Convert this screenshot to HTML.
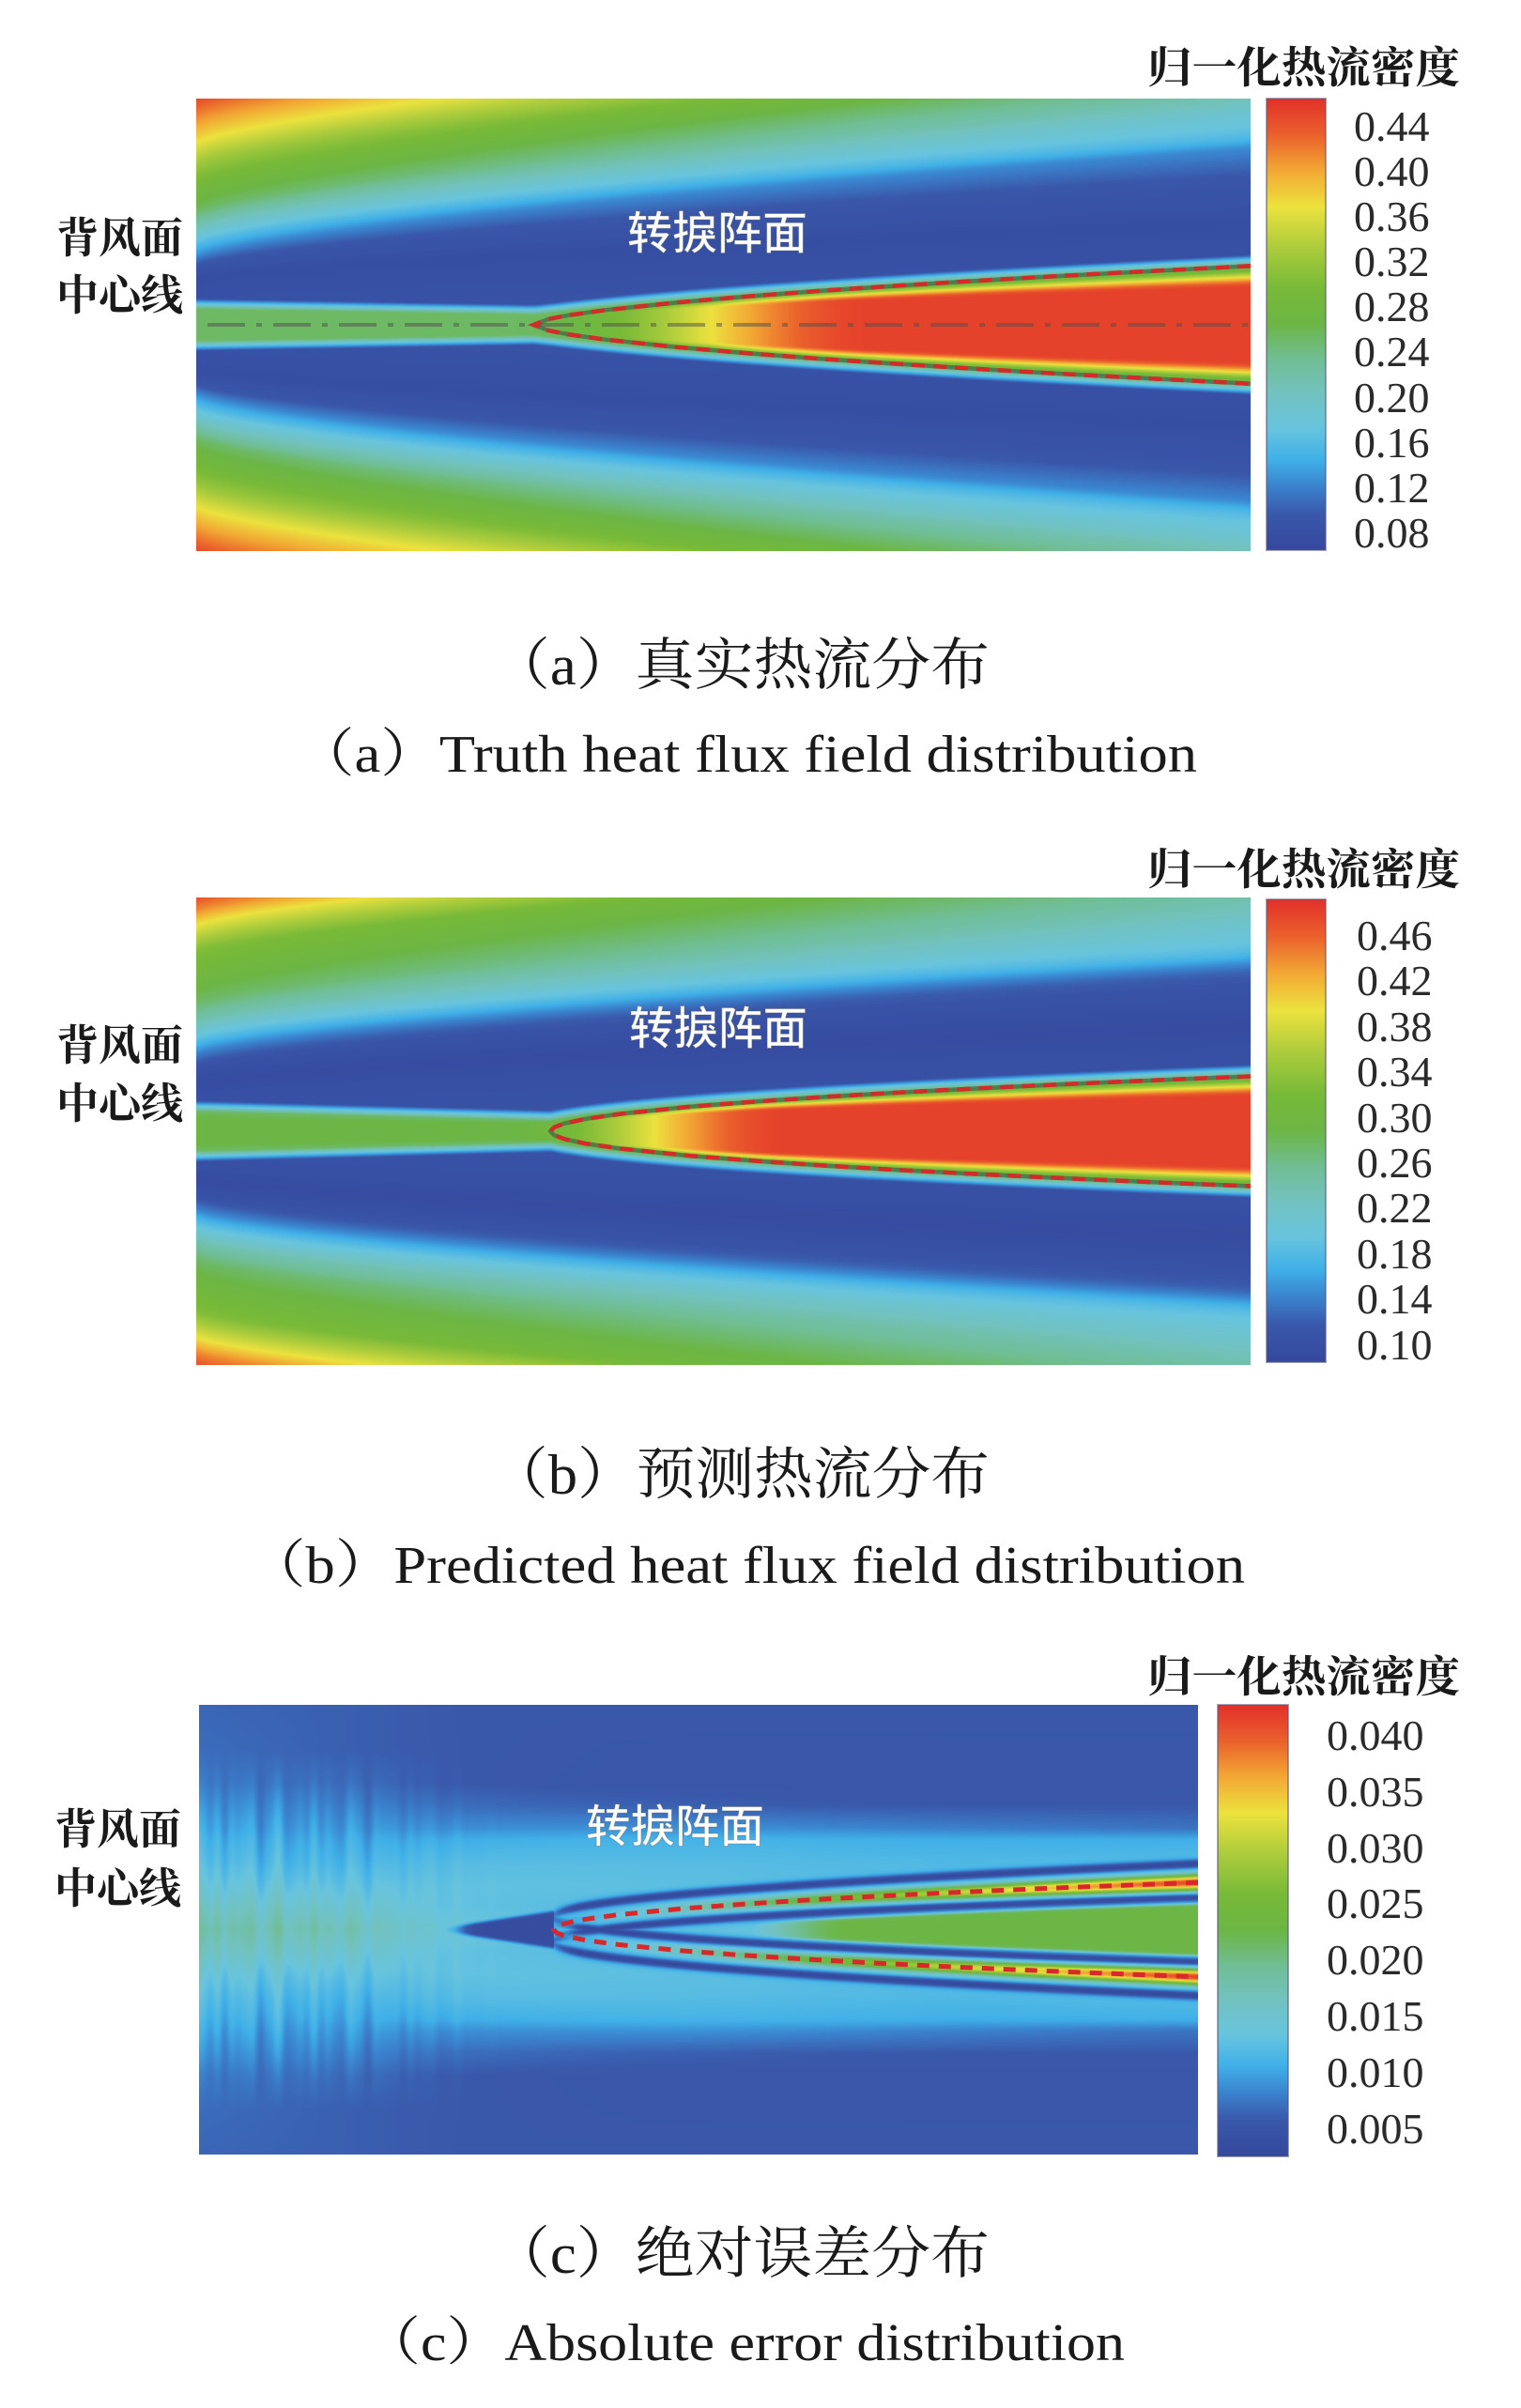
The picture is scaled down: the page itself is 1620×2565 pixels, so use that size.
<!DOCTYPE html>
<html><head><meta charset="utf-8">
<style>
html,body{margin:0;padding:0;background:#fff;}
body{width:1620px;height:2565px;position:relative;overflow:hidden;}
canvas,.fb{position:absolute;display:block;}
svg{position:absolute;left:0;top:0;}
</style></head><body>
<div class="fb" style="left:209px;top:105px;width:1123px;height:482px;background:linear-gradient(to bottom,#9cc84a 0%,#6cb646 15%,#70c0c0 28%,#3a58aa 38%,#3a58aa 42%,#e8602c 50%,#3a58aa 58%,#3a58aa 62%,#70c0c0 72%,#6cb646 85%,#9cc84a 100%)"></div>
<canvas id="ca" width="1123" height="482" style="left:209px;top:105px"></canvas>
<div class="fb" style="left:209px;top:956px;width:1123px;height:498px;background:linear-gradient(to bottom,#9cc84a 0%,#6cb646 15%,#70c0c0 28%,#3a58aa 38%,#3a58aa 42%,#e8602c 50%,#3a58aa 58%,#3a58aa 62%,#70c0c0 72%,#6cb646 85%,#9cc84a 100%)"></div>
<canvas id="cb" width="1123" height="498" style="left:209px;top:956px"></canvas>
<div class="fb" style="left:212px;top:1816px;width:1064px;height:479px;background:#3a5cae"></div>
<canvas id="cc" width="1064" height="479" style="left:212px;top:1816px"></canvas>

<svg width="1620" height="2565" viewBox="0 0 1620 2565" xmlns="http://www.w3.org/2000/svg">
<defs>
<linearGradient id="cbg" x1="0" y1="1" x2="0" y2="0">
<stop offset="0" stop-color="#34489c"/><stop offset="0.08" stop-color="#3a58aa"/><stop offset="0.14" stop-color="#3a82cd"/><stop offset="0.2" stop-color="#40b0e8"/><stop offset="0.27" stop-color="#68c4de"/><stop offset="0.35" stop-color="#72c2be"/><stop offset="0.42" stop-color="#70be96"/><stop offset="0.5" stop-color="#6cb646"/><stop offset="0.58" stop-color="#78ba38"/><stop offset="0.67" stop-color="#accc3c"/><stop offset="0.76" stop-color="#ece23e"/><stop offset="0.84" stop-color="#f2a834"/><stop offset="0.92" stop-color="#ea602c"/><stop offset="1" stop-color="#e2302a"/>
</linearGradient>
</defs>

<!-- colorbars -->
<rect x="1349" y="105" width="63" height="481" fill="url(#cbg)" stroke="#5a5a78" stroke-opacity="0.55" stroke-width="2"/>
<rect x="1349" y="958" width="63" height="493" fill="url(#cbg)" stroke="#5a5a78" stroke-opacity="0.55" stroke-width="2"/>
<rect x="1297" y="1816" width="75" height="481" fill="url(#cbg)" stroke="#5a5a78" stroke-opacity="0.55" stroke-width="2"/>

<!-- panel a lines -->
<path d="M221,346 H1341" stroke="#50504a" stroke-opacity="0.5" stroke-width="4" stroke-dasharray="40 12 6 12" fill="none"/>
<path d="M1332,283.3 L1255.6,287.2 L1179.3,291.2 L1102.9,295.4 L1026.6,299.9 L950.2,304.7 L873.8,309.8 L797.5,315.6 L721.1,322.2 L644.8,330.3 L606.6,335.6 L583.7,340 L568.4,346 L583.7,352 L606.6,356.4 L644.8,361.7 L721.1,369.8 L797.5,376.4 L873.8,382.2 L950.2,387.3 L1026.6,392.1 L1102.9,396.6 L1179.3,400.8 L1255.6,404.8 L1332,408.7" fill="none" stroke="#3c4a48" stroke-opacity="0.55" stroke-width="4.5"/>
<path d="M1332,283.3 L1255.6,287.2 L1179.3,291.2 L1102.9,295.4 L1026.6,299.9 L950.2,304.7 L873.8,309.8 L797.5,315.6 L721.1,322.2 L644.8,330.3 L606.6,335.6 L583.7,340 L568.4,346 L583.7,352 L606.6,356.4 L644.8,361.7 L721.1,369.8 L797.5,376.4 L873.8,382.2 L950.2,387.3 L1026.6,392.1 L1102.9,396.6 L1179.3,400.8 L1255.6,404.8 L1332,408.7" fill="none" stroke="#d42a2a" stroke-width="4.5" stroke-dasharray="14 9"/>

<!-- panel b lines -->
<path d="M1332,1146.5 L1257.4,1149.5 L1182.9,1152.7 L1108.3,1156.1 L1033.7,1159.7 L959.2,1163.6 L884.6,1168 L810,1173 L735.4,1178.8 L660.9,1186.5 L623.6,1191.9 L601.2,1196.7 L590,1200.9 L586.3,1205 L590,1209.1 L601.2,1213.3 L623.6,1218.1 L660.9,1223.5 L735.4,1231.2 L810,1237 L884.6,1242 L959.2,1246.4 L1033.7,1250.3 L1108.3,1253.9 L1182.9,1257.3 L1257.4,1260.5 L1332,1263.5" fill="none" stroke="#3c4a48" stroke-opacity="0.55" stroke-width="4.5"/>
<path d="M1332,1146.5 L1257.4,1149.5 L1182.9,1152.7 L1108.3,1156.1 L1033.7,1159.7 L959.2,1163.6 L884.6,1168 L810,1173 L735.4,1178.8 L660.9,1186.5 L623.6,1191.9 L601.2,1196.7 L590,1200.9 L586.3,1205 L590,1209.1 L601.2,1213.3 L623.6,1218.1 L660.9,1223.5 L735.4,1231.2 L810,1237 L884.6,1242 L959.2,1246.4 L1033.7,1250.3 L1108.3,1253.9 L1182.9,1257.3 L1257.4,1260.5 L1332,1263.5" fill="none" stroke="#d42a2a" stroke-width="4.5" stroke-dasharray="14 9"/>

<!-- panel c lines -->
<path d="M1276,2005.2 L1207.4,2007.8 L1138.8,2010.5 L1070.1,2013.4 L1001.5,2016.5 L932.9,2019.9 L864.2,2023.7 L795.6,2028 L726.9,2033 L658.3,2039.6 L624,2044.3 L603.4,2048.4 L593.1,2051.9 L589.7,2055.5 L593.1,2059.1 L603.4,2062.6 L624,2066.7 L658.3,2071.4 L726.9,2078 L795.6,2083 L864.2,2087.3 L932.9,2091.1 L1001.5,2094.5 L1070.1,2097.6 L1138.8,2100.5 L1207.4,2103.2 L1276,2105.8" fill="none" stroke="#d8282a" stroke-width="5" stroke-dasharray="13 10"/>

<!-- titles -->
<g font-family="'Noto Serif CJK SC','Noto Sans CJK SC',serif" font-weight="700" font-size="46" fill="#1a1a1a">
<text x="1222" y="88" textLength="333" lengthAdjust="spacingAndGlyphs">归一化热流密度</text>
<text x="1222" y="942" textLength="333" lengthAdjust="spacingAndGlyphs">归一化热流密度</text>
<text x="1222" y="1802" textLength="333" lengthAdjust="spacingAndGlyphs">归一化热流密度</text>
</g>

<!-- left labels -->
<g font-family="'Noto Serif CJK SC','Noto Sans CJK SC',serif" font-weight="700" font-size="45" fill="#1a1a1a">
<text x="60" y="269" textLength="135" lengthAdjust="spacingAndGlyphs">背风面</text>
<text x="60" y="330" textLength="135" lengthAdjust="spacingAndGlyphs">中心线</text>
<text x="60" y="1129" textLength="135" lengthAdjust="spacingAndGlyphs">背风面</text>
<text x="60" y="1191" textLength="135" lengthAdjust="spacingAndGlyphs">中心线</text>
<text x="58" y="1964" textLength="135" lengthAdjust="spacingAndGlyphs">背风面</text>
<text x="58" y="2027" textLength="135" lengthAdjust="spacingAndGlyphs">中心线</text>
</g>

<!-- white labels -->
<g font-family="'Noto Sans CJK SC','Noto Serif CJK SC',sans-serif" font-weight="500" font-size="48" fill="#ffffff" stroke="#555" stroke-opacity="0.35" stroke-width="1">
<text x="668" y="265" textLength="192" lengthAdjust="spacingAndGlyphs">转捩阵面</text>
<text x="670" y="1112" textLength="190" lengthAdjust="spacingAndGlyphs">转捩阵面</text>
<text x="624" y="1962" textLength="190" lengthAdjust="spacingAndGlyphs">转捩阵面</text>
</g>

<!-- ticks -->
<g font-family="'Liberation Serif',serif" font-size="46" fill="#2a2a2a">
<text x="1442" y="150">0.44</text><text x="1442" y="198">0.40</text><text x="1442" y="246">0.36</text><text x="1442" y="294">0.32</text><text x="1442" y="342">0.28</text><text x="1442" y="390">0.24</text><text x="1442" y="439">0.20</text><text x="1442" y="487">0.16</text><text x="1442" y="535">0.12</text><text x="1442" y="583">0.08</text>
<text x="1445" y="1012">0.46</text><text x="1445" y="1060">0.42</text><text x="1445" y="1109">0.38</text><text x="1445" y="1157">0.34</text><text x="1445" y="1206">0.30</text><text x="1445" y="1254">0.26</text><text x="1445" y="1302">0.22</text><text x="1445" y="1351">0.18</text><text x="1445" y="1399">0.14</text><text x="1445" y="1448">0.10</text>
<text x="1413" y="1864">0.040</text><text x="1413" y="1924">0.035</text><text x="1413" y="1984">0.030</text><text x="1413" y="2043">0.025</text><text x="1413" y="2103">0.020</text><text x="1413" y="2163">0.015</text><text x="1413" y="2223">0.010</text><text x="1413" y="2283">0.005</text>
</g>

<!-- captions -->
<g font-family="'Liberation Serif','Noto Serif CJK SC',serif" fill="#1a1a1a">
<text x="523" y="729" font-size="60" textLength="531" lengthAdjust="spacingAndGlyphs">（a）真实热流分布</text>
<text x="315" y="822" font-size="56" textLength="960" lengthAdjust="spacingAndGlyphs">（a）Truth heat flux field distribution</text>
<text x="521" y="1591" font-size="60" textLength="533" lengthAdjust="spacingAndGlyphs">（b）预测热流分布</text>
<text x="263" y="1686" font-size="56" textLength="1063" lengthAdjust="spacingAndGlyphs">（b）Predicted heat flux field distribution</text>
<text x="523" y="2421" font-size="60" textLength="531" lengthAdjust="spacingAndGlyphs">（c）绝对误差分布</text>
<text x="386" y="2514" font-size="56" textLength="812" lengthAdjust="spacingAndGlyphs">（c）Absolute error distribution</text>
</g>
</svg>

<script>
(function(){
var CM=[[0,52,72,156],[0.08,58,88,170],[0.14,58,130,205],[0.2,64,176,232],[0.27,104,196,222],[0.35,114,194,190],[0.42,112,190,150],[0.5,108,182,70],[0.58,120,186,56],[0.67,172,204,60],[0.76,236,226,62],[0.84,242,168,52],[0.92,234,96,44],[1,226,48,42]];
var LUT=new Uint8ClampedArray(1025*3);
for(var i=0;i<=1024;i++){var t=i/1024,k=1;while(k<CM.length-1&&t>CM[k][0])k++;var a=CM[k-1],b=CM[k];var f=Math.min(1,Math.max(0,(t-a[0])/(b[0]-a[0])));for(var c=0;c<3;c++)LUT[i*3+c]=a[c+1]+(b[c+1]-a[c+1])*f;}
function ss(a,b,x){var t=(x-a)/(b-a);t=t<0?0:t>1?1:t;return t*t*(3-2*t);}
function stopsAt(cols,u){
 var n=cols.length,i=1;while(i<n-1&&u>cols[i][0])i++;var i0=i-1,i1=i;
 var u0=cols[i0][0],u1=cols[i1][0],h=u1-u0;var t=(u-u0)/h;t=t<0?0:t>1?1:t;
 var t2=t*t,t3=t2*t;var h00=2*t3-3*t2+1,h10=t3-2*t2+t,h01=-2*t3+3*t2,h11=t3-t2;
 function P(ci,k,j){return cols[ci][1][k][j];}
 function S(ci,k,j){if(ci==0)return (P(1,k,j)-P(0,k,j))/(cols[1][0]-cols[0][0]);if(ci==n-1)return (P(n-1,k,j)-P(n-2,k,j))/(cols[n-1][0]-cols[n-2][0]);return (P(ci+1,k,j)-P(ci-1,k,j))/(cols[ci+1][0]-cols[ci-1][0]);}
 var out=[],m=cols[0][1].length;
 for(var k=0;k<m;k++){var r=[0,0];for(var j=0;j<2;j++){r[j]=h00*P(i0,k,j)+h10*h*S(i0,k,j)+h01*P(i1,k,j)+h11*h*S(i1,k,j);}
  if(k>0&&r[0]<out[k-1][0])r[0]=out[k-1][0];out.push(r);}
 return out;}
function ev(st,av){if(av<=st[0][0])return st[0][1];for(var k=1;k<st.length;k++){if(av<=st[k][0]){var a=st[k-1],b=st[k];var d=b[0]-a[0];var f=d>0?(av-a[0])/d:1;return a[1]+(b[1]-a[1])*f;}}return st[st.length-1][1];}
function paint(id,fn){var cv=document.getElementById(id);if(!cv||!cv.getContext)return;var W=cv.width,H=cv.height;var ctx=cv.getContext('2d');var img=ctx.createImageData(W,H);var d=img.data;for(var x=0;x<W;x++){var u=(x+0.5)/W;var cf=fn(u);for(var y=0;y<H;y++){var v=((y+0.5)/H)*2-1;var val=cf(Math.abs(v),v);val=val<0?0:val>1?1:val;var li=Math.round(val*1024)*3;var p=(y*W+x)*4;d[p]=LUT[li];d[p+1]=LUT[li+1];d[p+2]=LUT[li+2];d[p+3]=255;}}ctx.putImageData(img,0,0);}

/* background: left-edge profile B0(av0) with level lines shifted outward: av = av0 + K(av0)*g(u) */
var B0A=[[0,.05],[.15,.04],[.2,.03],[.26,.07],[.30,.15],[.36,.25],[.44,.38],[.5,.47],[.6,.55],[.7,.64],[.82,.78],[.9,.86],[1,.96]];
var KA=[[0,.19],[.07,.19],[.12,.17],[.2,.25],[.3,.48],[1,.48]];
var B0B=[[0,.05],[.15,.04],[.2,.02],[.27,.05],[.33,.14],[.39,.25],[.47,.38],[.55,.47],[.65,.53],[.77,.6],[.88,.76],[.94,.87],[1,.95]];
var KB=[[0,.15],[.085,.15],[.13,.15],[.2,.25],[.3,.38],[1,.38]];

function wedge(B0,K,u0,amp,pw,e0,cvalF){return function(u){
 var g=Math.pow(u,0.7);
 var dash=u>u0?amp*Math.pow((u-u0)/(1-u0),pw):0;var e=u<u0?e0-(e0-0.045)*u/u0:Math.sqrt(0.045*0.045+dash*dash);var cv=cvalF(u);
 return function(av){
  if(av<e){var p=av/e;return cv+(0.47-cv)*ss(0.62,1.02,p);}
  var lo=av-0.6*g-0.01,hi=av;if(lo<0)lo=0;
  for(var it=0;it<18;it++){var mid=(lo+hi)/2;if(mid+ev(K,mid)*g<av)lo=mid;else hi=mid;}
  var a0=(lo+hi)/2;var b=ev(B0,a0);b-=0.13*u*ss(0.2,0.5,b);
  var dd=av-e;var E=0.47-9*dd;return b>E?b:E;};};}

paint('ca',wedge(B0A,KA,0.32,0.26,0.6,0.07,function(u){return 0.47+0.5*ss(0.30,0.64,u);}));
paint('cb',wedge(B0B,KB,0.336,0.235,0.5,0.085,function(u){return 0.5+0.47*ss(0.29,0.56,u);}));

var PC=[0,.1,.2,.3,.4,.45,.55,.65,.8,1];
function mk(u,vals){var s=[];for(var i=0;i<PC.length;i++)s.push([PC[i],vals[i]]);return [u,s];}
var colsC=[
mk(0,[.38,.34,.28,.24,.21,.19,.16,.13,.11,.1]),
mk(0.15,[.36,.31,.26,.22,.19,.17,.14,.11,.09,.09]),
mk(0.27,[.28,.26,.26,.24,.2,.16,.11,.08,.08,.08]),
mk(0.5,[.26,.24,.25,.24,.21,.16,.09,.07,.07,.08]),
mk(0.75,[.3,.26,.24,.23,.2,.14,.08,.07,.07,.08]),
mk(1,[.3,.28,.22,.24,.2,.12,.08,.07,.07,.08])];
var tip=0.355;
function fnC(u){var st=stopsAt(colsC,u);var s=u>tip?(u-tip)/(1-tip):0;var a=0.21*Math.sqrt(s);var armS=ss(tip-0.03,tip+0.03,u);
 var core=0.15+0.82*Math.pow(s,0.85);var cg=0.5*ss(0.45,0.65,u);
 var dIn=0.055+0.01*s,dOut=0.058+0.025*s,dW=0.021,cW=0.022+0.012*s;
 var na=0.065*(1-ss(0.08,0.33,u));
 var nz=(Math.sin(u*173+0.4)+0.8*Math.sin(u*241+1.9)+0.6*Math.sin(u*317+2.7)+0.5*Math.sin(u*389+0.9)+0.4*Math.sin(u*523+4.1))/3.3;
 var pre=(u>=0.24&&u<tip);var pos=0.077*(u-0.24)/(tip-0.24);var preS=ss(0.24,0.28,u);
 var ci=a-dIn,co=a+dOut;
 return function(av){var val=ev(st,av);val+=na*nz*(1-ss(0.4,0.85,av));
  if(pre){var dk=(1-ss(pos-0.01,pos+0.02,av))*preS;val=val*(1-dk)+0.02*dk;}
  if(u>=tip){
   if(ci>0&&av<ci){var g=cg*(1-ss(ci-0.04,ci-0.005,av));if(g>val)val=g;}
   var q1=(av-ci)/dW,q2=(av+ci)/dW,q3=(av-co)/dW;
   var dw=Math.max(Math.exp(-q1*q1),Math.exp(-q2*q2),Math.exp(-q3*q3))*armS;
   val=val*(1-dw)+0.01*dw;
   var c1=(av-a)/cW,c2=(av+a)/cW;var cw=Math.max(Math.exp(-c1*c1),Math.exp(-c2*c2))*armS;
   val=val*(1-cw)+core*cw;}
  return val;};}
paint('cc',fnC);
})();
</script>
</body></html>
